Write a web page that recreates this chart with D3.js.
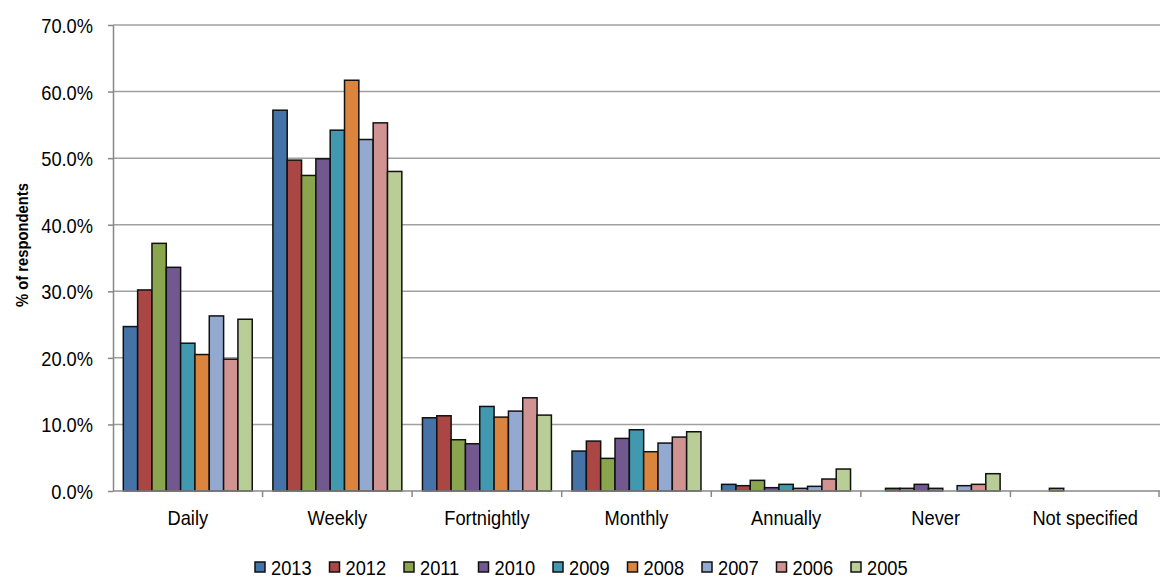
<!DOCTYPE html>
<html>
<head>
<meta charset="utf-8">
<script src="https://cdn.jsdelivr.net/npm/d3@7"></script>
<style>
body { margin: 0; background: #fff; }
svg text { font-family: "Liberation Sans", Arial, sans-serif; fill: #000; }
</style>
</head>
<body>
<svg id="chart" width="1160" height="579"></svg>
<script>
const categories = ["Daily", "Weekly", "Fortnightly", "Monthly", "Annually", "Never", "Not specified"];
const years = ["2013", "2012", "2011", "2010", "2009", "2008", "2007", "2006", "2005"];
const colors = ["#4572A7", "#AA4643", "#89A54E", "#71588F", "#4198AF", "#DB843D", "#93A9CF", "#D19392", "#B9CD96"];
// values in %, one array per year, in category order
const v2013 = [24.7, 57.2, 11.0, 6.0, 1.0, 0, 0];
const v2012 = [30.2, 49.7, 11.3, 7.5, 0.8, 0.4, 0];
const v2011 = [37.2, 47.4, 7.7, 4.9, 1.6, 0.4, 0.4];
const v2010 = [33.6, 49.9, 7.1, 7.9, 0.5, 1.0, 0];
const v2009 = [22.2, 54.2, 12.7, 9.2, 1.0, 0.4, 0];
const v2008 = [20.5, 61.7, 11.1, 5.9, 0.4, 0, 0];
const v2007 = [26.3, 52.8, 12.0, 7.2, 0.7, 0.8, 0];
const v2006 = [19.8, 55.3, 14.0, 8.1, 1.8, 1.0, 0];
const v2005 = [25.8, 48.0, 11.4, 8.9, 3.3, 2.6, 0];
const seriesValues = [v2013, v2012, v2011, v2010, v2009, v2008, v2007, v2006, v2005];
const yTicks = [0, 10, 20, 30, 40, 50, 60, 70];

const svg = d3.select("#chart");
const mLeft = 113, mRight = 1160, mTop = 25, mBottom = 491;
const FS = 21, SX = 0.87;

const x0 = d3.scaleBand().domain(categories).range([mLeft, mRight]).padding(0);
const x1 = d3.scaleBand().domain(years).range([0, x0.bandwidth()]).paddingInner(0).paddingOuter(0.72);
const y = d3.scaleLinear().domain([0, 70]).range([mBottom, mTop]);
const color = d3.scaleOrdinal().domain(years).range(colors);

// gridlines
svg.append("g").selectAll("line").data(yTicks.filter(t => t > 0)).join("line")
  .attr("x1", mLeft).attr("x2", mRight)
  .attr("y1", d => y(d)).attr("y2", d => y(d))
  .attr("stroke", "#a0a0a0").attr("stroke-width", 1.5);

// y axis
const yAxis = svg.append("g").attr("transform", `translate(${mLeft},0)`)
  .call(d3.axisLeft(y).tickValues(yTicks).tickSize(5).tickSizeOuter(0).tickFormat(d => d.toFixed(1) + "%"));
yAxis.select(".domain").attr("stroke", "#888").attr("stroke-width", 1.5);
yAxis.selectAll(".tick line").attr("stroke", "#888").attr("stroke-width", 1.5);
yAxis.selectAll(".tick text")
  .attr("x", 0).attr("dy", null).attr("y", 0)
  .attr("dominant-baseline", "central")
  .attr("transform", `translate(-20,0) scale(${SX},1)`)
  .attr("font-size", FS)
  .style("font-family", "'Liberation Sans', Arial, sans-serif").attr("fill", "#000");

// bars
const data = [];
years.forEach((yr, i) => {
  categories.forEach((c, j) => {
    const v = seriesValues[i][j];
    if (v > 0) data.push({ yr, c, v });
  });
});
svg.append("g").selectAll("rect").data(data).join("rect")
  .attr("x", d => x0(d.c) + x1(d.yr))
  .attr("y", d => y(d.v))
  .attr("width", x1.bandwidth())
  .attr("height", d => mBottom - y(d.v))
  .attr("fill", d => color(d.yr))
  .attr("stroke", "#111").attr("stroke-width", 1.5);

// x axis
const xAxisG = svg.append("g").attr("transform", `translate(0,${mBottom})`);
xAxisG.append("line").attr("x1", mLeft).attr("x2", mRight).attr("y1", 0).attr("y2", 0)
  .attr("stroke", "#888").attr("stroke-width", 1.5);
const bounds = categories.map(c => x0(c)).concat([mRight - 1]);
xAxisG.selectAll("line.tk").data(bounds.slice(1)).join("line").attr("class", "tk")
  .attr("x1", d => d).attr("x2", d => d).attr("y1", 0).attr("y2", 6)
  .attr("stroke", "#888").attr("stroke-width", 1.5);
xAxisG.selectAll("text").data(categories).join("text")
  .attr("transform", d => `translate(${x0(d) + x0.bandwidth() / 2},34) scale(${SX},1)`)
  .attr("text-anchor", "middle")
  .attr("font-size", FS)
  .text(d => d);

// y title
svg.append("text")
  .attr("transform", `translate(28,245) rotate(-90) scale(${SX},1)`)
  .attr("text-anchor", "middle")
  .attr("font-size", 17)
  .attr("font-weight", "bold")
  .text("% of respondents");

// legend
const leg = svg.append("g").attr("transform", "translate(255,567)");
const item = leg.selectAll("g").data(years).join("g")
  .attr("transform", (d, i) => `translate(${i * 74.5},0)`);
item.append("rect").attr("x", 0).attr("y", -5).attr("width", 10).attr("height", 10)
  .attr("fill", d => color(d)).attr("stroke", "#111").attr("stroke-width", 1.5);
item.append("text").attr("transform", `translate(16,7.5) scale(${SX},1)`)
  .attr("font-size", FS).text(d => d);
</script>
</body>
</html>
